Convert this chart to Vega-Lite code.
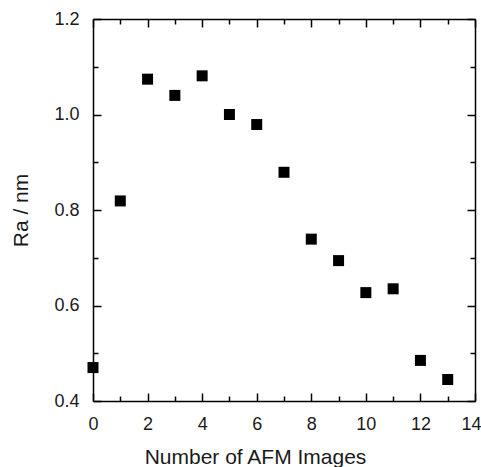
{
  "$schema": "https://vega.github.io/schema/vega-lite/v6.json",
  "width": 382,
  "height": 382,
  "autosize": {"type": "none"},
  "padding": {"left": 93, "top": 19, "right": 6, "bottom": 66},
  "background": "white",
  "config": {
    "view": {"stroke": null},
    "font": "Liberation Sans",
    "axis": {
      "domainColor": "black",
      "domainWidth": 1.5,
      "tickColor": "black",
      "tickWidth": 1.5,
      "grid": false,
      "labelFont": "Liberation Sans",
      "labelFontSize": 18,
      "labelColor": "#1a1a1a",
      "titleFont": "Liberation Sans",
      "titleFontWeight": "normal",
      "titleColor": "#1a1a1a"
    }
  },
  "data": {
    "values": [
      {"images": 0, "ra": 0.470},
      {"images": 1, "ra": 0.819},
      {"images": 2, "ra": 1.074},
      {"images": 3, "ra": 1.040},
      {"images": 4, "ra": 1.081},
      {"images": 5, "ra": 1.000},
      {"images": 6, "ra": 0.979},
      {"images": 7, "ra": 0.879},
      {"images": 8, "ra": 0.739},
      {"images": 9, "ra": 0.694},
      {"images": 10, "ra": 0.627},
      {"images": 11, "ra": 0.635},
      {"images": 12, "ra": 0.485},
      {"images": 13, "ra": 0.445}
    ]
  },
  "resolve": {"axis": {"x": "independent", "y": "independent"}},
  "layer": [
    {
      "mark": {"type": "square", "size": 121, "color": "black", "opacity": 1, "strokeWidth": 0},
      "encoding": {
        "x": {
          "field": "images", "type": "quantitative",
          "scale": {"domain": [0, 14], "nice": false, "zero": false},
          "axis": {
            "orient": "bottom", "values": [0, 2, 4, 6, 8, 10, 12, 14],
            "tickSize": -8, "labelPadding": 22, "labelFlush": false,
            "labelOffset": {"condition": {"test": "datum.value === 14", "value": -4}, "value": 0},
            "title": "Number of AFM Images", "titleFontSize": 21,
            "titleX": 162, "titleY": 62, "titleBaseline": "alphabetic", "titleAlign": "center"
          }
        },
        "y": {
          "field": "ra", "type": "quantitative",
          "scale": {"domain": [0.4, 1.2], "nice": false, "zero": false},
          "axis": {
            "orient": "left", "values": [0.4, 0.6, 0.8, 1.0, 1.2], "format": ".1f",
            "tickSize": -8, "labelPadding": 22, "labelFlush": false,
            "title": "Ra  /  nm", "titleFontSize": 21, "titlePadding": 22
          }
        }
      }
    },
    {
      "mark": {"type": "square", "size": 121, "opacity": 0},
      "encoding": {
        "x": {
          "field": "images", "type": "quantitative",
          "axis": {"orient": "bottom", "values": [1, 3, 5, 7, 9, 11, 13], "tickSize": -5, "labels": false, "title": null, "domain": false}
        },
        "y": {
          "field": "ra", "type": "quantitative",
          "axis": {"orient": "left", "values": [0.5, 0.7, 0.9, 1.1], "tickSize": -5, "labels": false, "title": null, "domain": false}
        }
      }
    },
    {
      "mark": {"type": "square", "size": 121, "opacity": 0},
      "encoding": {
        "x": {
          "field": "images", "type": "quantitative",
          "axis": {"orient": "top", "values": [0, 2, 4, 6, 8, 10, 12, 14], "tickSize": -8, "labels": false, "title": null}
        },
        "y": {
          "field": "ra", "type": "quantitative",
          "axis": {"orient": "right", "values": [0.4, 0.6, 0.8, 1.0, 1.2], "tickSize": -8, "labels": false, "title": null}
        }
      }
    },
    {
      "mark": {"type": "square", "size": 121, "opacity": 0},
      "encoding": {
        "x": {
          "field": "images", "type": "quantitative",
          "axis": {"orient": "top", "values": [1, 3, 5, 7, 9, 11, 13], "tickSize": -5, "labels": false, "title": null, "domain": false}
        },
        "y": {
          "field": "ra", "type": "quantitative",
          "axis": {"orient": "right", "values": [0.5, 0.7, 0.9, 1.1], "tickSize": -5, "labels": false, "title": null, "domain": false}
        }
      }
    }
  ]
}
